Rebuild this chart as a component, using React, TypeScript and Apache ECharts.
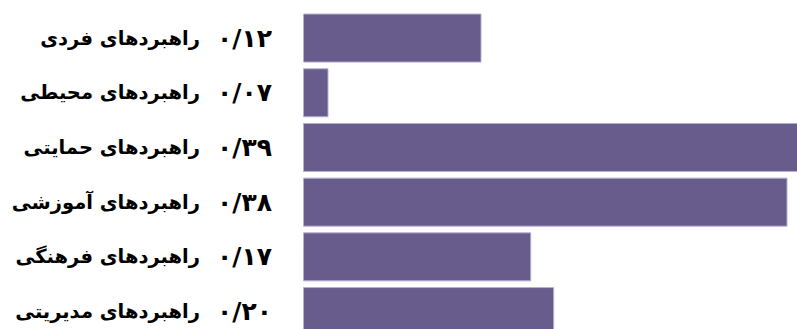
import React, { useEffect, useRef } from "react";
import * as echarts from "echarts";

const categories = [
  "راهبردهای فردی",
  "راهبردهای محیطی",
  "راهبردهای حمایتی",
  "راهبردهای آموزشی",
  "راهبردهای فرهنگی",
  "راهبردهای مدیریتی",
];
const displayValues = [0.12, 0.07, 0.39, 0.38, 0.17, 0.2];
// bar lengths as drawn in the picture (not proportional to the printed values)
const barLengths = [0.14, 0.02, 0.392, 0.38, 0.179, 0.197];

const faDigits = "۰۱۲۳۴۵۶۷۸۹";
const toFa = (v: number) =>
  v
    .toFixed(2)
    .replace(".", "/")
    .replace(/[0-9]/g, (d) => faDigits[Number(d)]);

export default function App() {
  const ref = useRef<HTMLDivElement>(null);
  useEffect(() => {
    if (!ref.current) return;
    const chart = echarts.init(ref.current, null, { renderer: "svg" });
    const labelStyle = {
      color: "#000",
      fontWeight: "bold" as const,
      fontFamily: "DejaVu Sans",
    };
    chart.setOption({
      animation: false,
      grid: {
        left: 303,
        top: 10.7,
        width: 510,
        height: 328.2,
        outerBoundsMode: "none",
        containLabel: false,
      },
      xAxis: { type: "value", min: 0, max: 0.4, show: false },
      yAxis: [
        {
          type: "category",
          inverse: true,
          data: displayValues.map(toFa),
          axisLine: { show: false },
          axisTick: { show: false },
          splitLine: { show: false },
          axisLabel: { ...labelStyle, fontSize: 25, margin: 31 },
        },
        {
          type: "category",
          inverse: true,
          position: "left",
          data: categories,
          axisLine: { show: false },
          axisTick: { show: false },
          splitLine: { show: false },
          axisLabel: { ...labelStyle, fontSize: 19.5, margin: 103 },
        },
      ],
      series: [
        {
          type: "bar",
          yAxisIndex: 0,
          data: barLengths,
          barWidth: 49,
          itemStyle: { color: "#675c8c", borderColor: "#b7aed2", borderWidth: 1 },
        },
      ],
    });
    return () => chart.dispose();
  }, []);
  return (
    <div
      ref={ref}
      style={{ position: "absolute", left: 0, top: 0, width: 797, height: 329 }}
    />
  );
}
